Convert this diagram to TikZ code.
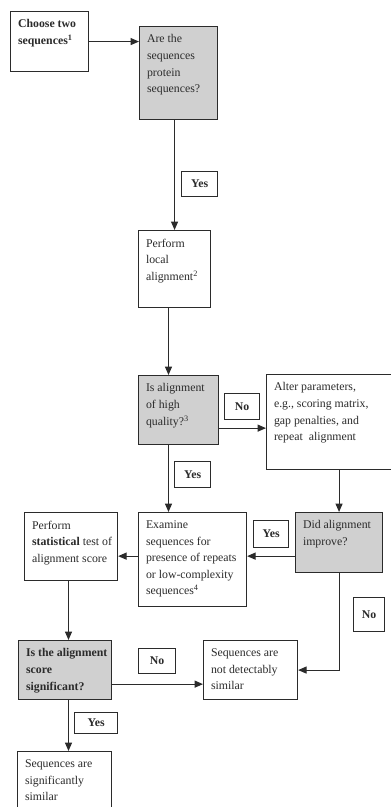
\documentclass[tikz,border=0pt]{standalone}
\usepackage{fontspec}
\setmainfont{Liberation Serif}
\usetikzlibrary{arrows.meta,calc}
\definecolor{ink}{HTML}{2B2B2B}
\definecolor{stipple}{HTML}{D0D0D0}
\newcommand{\stepfont}{\fontsize{8.4}{11.8}\selectfont}
\newcommand{\px}{0.025cm}

\begin{document}
\begin{tikzpicture}[x=0.025cm,y=-0.025cm,
  font=\stepfont,
  stepbox/.style={draw=ink,line width=0.8pt,fill=white,anchor=north west,inner sep=0pt},
  ask/.style={fill=stipple},
  txt/.style={anchor=north west,align=left,inner xsep=5.5pt,inner ysep=6pt,text=ink},
  strong/.style={font=\stepfont\bfseries},
  tag/.style={draw=ink,line width=0.8pt,fill=white,anchor=north west,inner sep=0pt,
              font=\stepfont\bfseries,text=ink},
  flow/.style={draw=ink,line width=0.8pt,-{Triangle[length=6pt,width=5pt]}}]

\useasboundingbox (0,0) rectangle (390,807);

% steps and questions
\node[stepbox,minimum width=78*\px,minimum height=60*\px,
      label={[txt,strong]north west:{Choose two\\sequences\textsuperscript{1}}}] (choose) at (10,11) {};
\node[stepbox,ask,minimum width=78*\px,minimum height=93*\px,
      label={[txt]north west:{Are the\\sequences\\protein\\sequences?}}] (are) at (139,26) {};
\node[stepbox,minimum width=72*\px,minimum height=77*\px,
      label={[txt]north west:{Perform\\local\\alignment\textsuperscript{2}}}] (local) at (138,230) {};
\node[stepbox,ask,minimum width=80*\px,minimum height=69*\px,
      label={[txt]north west:{Is alignment\\of high\\quality?\textsuperscript{3}}}] (quality) at (138,375) {};
\node[stepbox,minimum width=126*\px,minimum height=95*\px,
      label={[txt]north west:{Alter parameters,\\e.g., scoring matrix,\\gap penalties, and\\repeat\ \ alignment}}] (alter) at (266,374) {};
\node[stepbox,minimum width=108*\px,minimum height=94*\px,
      label={[txt]north west:{Examine\\sequences for\\presence of repeats\\or low-complexity\\sequences\textsuperscript{4}}}] (examine) at (138,512) {};
\node[stepbox,ask,minimum width=87*\px,minimum height=60*\px,
      label={[txt]north west:{Did alignment\\improve?}}] (did) at (295,512) {};
\node[stepbox,minimum width=93*\px,minimum height=68*\px,
      label={[txt]north west:{Perform\\\textbf{statistical} test of\\alignment score}}] (stat) at (24,512) {};
\node[stepbox,ask,minimum width=93*\px,minimum height=59*\px,
      label={[txt,strong]north west:{Is the alignment\\score\\significant?}}] (signif) at (18,640) {};
\node[stepbox,minimum width=94*\px,minimum height=59*\px,
      label={[txt]north west:{Sequences are\\not detectably\\similar}}] (notsim) at (203,640) {};
\node[stepbox,minimum width=94*\px,minimum height=58*\px,
      label={[txt]north west:{Sequences are\\significantly\\similar}}] (sim) at (17,751) {};

% answers
\node[tag,minimum width=36*\px,minimum height=25*\px] (yes1) at (181,171) {Yes};
\node[tag,minimum width=35*\px,minimum height=26*\px] (no1) at (224,393) {No};
\node[tag,minimum width=36*\px,minimum height=26*\px] (yes2) at (174,461) {Yes};
\node[tag,minimum width=35*\px,minimum height=27*\px] (yes3) at (253,520) {Yes};
\node[tag,minimum width=31*\px,minimum height=34*\px] (no2) at (353,597) {No};
\node[tag,minimum width=37*\px,minimum height=25*\px] (no3) at (138,648) {No};
\node[tag,minimum width=43*\px,minimum height=21*\px] (yes4) at (74,712) {Yes};

% connectors
\draw[flow] (choose.east) -- (choose.east -| are.west);
\draw[flow] (local.north |- are.south) -- (local.north);
\draw[flow] ($(local.south west)+(30.5,0)$) -- ($(quality.north west)+(30.5,0)$);
\draw[flow] ($(quality.south east)+(0,-17)$) coordinate (q) -- (q -| alter.west);
\draw[flow] ($(quality.south west)+(30.5,0)$) -- ($(examine.north west)+(30.5,0)$);
\draw[flow] (did.north |- alter.south) -- (did.north);
\draw[flow] ($(did.south west)+(0,-17)$) coordinate (d) -- (d -| examine.east);
\draw[flow] (d -| examine.west) -- (d -| stat.east);
\draw[flow] ($(stat.south west)+(44.5,0)$) coordinate (s) -- (s |- signif.north);
\draw[flow] ($(signif.south east)+(0,-16)$) coordinate (g) -- (g -| notsim.west);
\draw[flow] (did.south) |- (notsim.east);
\draw[flow] (s |- signif.south) -- (s |- sim.north);
\end{tikzpicture}
\end{document}
